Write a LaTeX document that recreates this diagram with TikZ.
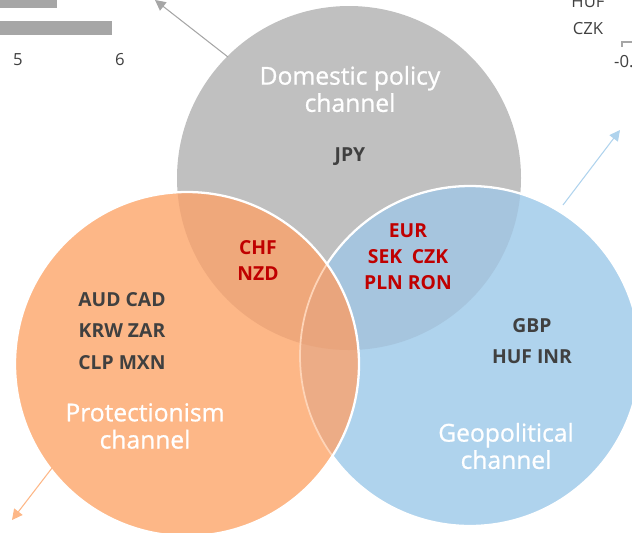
\documentclass[tikz,border=0pt]{standalone}
\usepackage{fontspec}
\setmainfont{Open Sans}
\newfontfamily\chanfont[FakeBold=0.9]{Open Sans}
\usetikzlibrary{arrows.meta}

\definecolor{domgray}{RGB}{192,192,192}
\definecolor{protorange}{RGB}{253,183,135}
\definecolor{geoblue}{RGB}{175,211,237}
\definecolor{orgray}{RGB}{239,168,123}
\definecolor{blgray}{RGB}{166,197,222}
\definecolor{orblue}{RGB}{236,172,134}
\definecolor{allthree}{RGB}{233,165,125}
\definecolor{codetext}{RGB}{64,64,64}
\definecolor{codered}{RGB}{192,0,0}
\definecolor{axisgray}{RGB}{166,166,166}

\tikzset{
  channel/.style={text=white, align=center, font=\chanfont\fontsize{14}{15.5}\selectfont},
  codes/.style={text=codetext, align=center, font=\fontsize{11}{18}\selectfont\bfseries},
  redcodes/.style={text=codered, align=center, font=\fontsize{11}{14.8}\selectfont\bfseries},
  axislabel/.style={text=codetext, font=\fontsize{9.5}{11}\selectfont},
  rim/.style={draw=white, line width=1.3pt},
  pointer/.style={-{Triangle[length=6pt,width=6pt]}, line width=0.6pt}
}

\begin{document}
\begin{tikzpicture}[x=0.02cm, y=-0.02cm]
    \useasboundingbox (0,0) rectangle (632,532);
    \clip (0,0) rectangle (632,532);

    % Leftover chart pieces behind the circles
    \fill[axisgray] (0,-2) rectangle (57,8);
    \fill[axisgray] (0,21) rectangle (112,35);
    \node[axislabel] (five) at (18,60) {5};
    \node[axislabel] (six) at (120,60) {6};
    \node[axislabel] (huf) at (588,2) {HUF};
    \node[axislabel] (czk) at (588,29) {CZK};
    \node[axislabel, anchor=west] (minus) at (608,62) {-0.5};
    \draw[axisgray, line width=0.6pt] (622,47) -- (622,42) -- (633,42);

    % Circle centres
    \coordinate (dom) at (349,178);
    \coordinate (prot) at (187,364);
    \coordinate (geo) at (470,356);

    % Plain fills
    \fill[domgray] (dom) circle (172);
    \fill[geoblue] (geo) circle (170);
    \fill[protorange] (prot) circle (172);

    % Overlaps
    \begin{scope}
        \clip (dom) circle (172);
        \fill[orgray] (prot) circle (172);
        \fill[blgray] (geo) circle (170);
    \end{scope}
    \begin{scope}
        \clip (prot) circle (172);
        \fill[orblue] (geo) circle (170);
        \clip (geo) circle (170);
        \fill[allthree] (dom) circle (172);
    \end{scope}

    % Rims
    \begin{scope}
        \clip (prot) circle (172);
        \draw[protorange!60!white, line width=1pt] (geo) circle (170);
    \end{scope}
    \begin{scope}[even odd rule]
        \clip (0,0) rectangle (632,532) (prot) circle (172);
        \draw[rim] (geo) circle (170);
    \end{scope}
    \draw[rim] (prot) circle (172);

    % Pointers out of the circles
    \coordinate (domedge) at (228,57);
    \coordinate (domtip) at (155,0);
    \draw[pointer, axisgray] (domedge) -- (domtip);
    \coordinate (geoedge) at (563,205);
    \coordinate (geotip) at (620,130);
    \draw[pointer, geoblue] (geoedge) -- (geotip);
    \coordinate (protedge) at (52,468);
    \coordinate (prottip) at (12,520);
    \draw[pointer, protorange] (protedge) -- (prottip);

    % Channel names
    \node[channel] (domname) at (350,89) {Domestic policy\\channel};
    \node[channel] (protname) at (145,426) {Protectionism\\channel};
    \node[channel] (geoname) at (506,446) {Geopolitical\\channel};

    % Currencies
    \node[codes] (jpy) at (350,157) {JPY};
    \node[codes] (protcodes) at (122,331) {AUD CAD\\KRW ZAR\\CLP MXN};
    \node[codes] (geocodes) at (532,341) {GBP\\HUF INR};
    \node[redcodes] (orgraycodes) at (258,260) {CHF\\NZD};
    \node[redcodes] (blgraycodes) at (408,257) {EUR\\SEK\enspace CZK\\PLN RON};
\end{tikzpicture}
\end{document}
